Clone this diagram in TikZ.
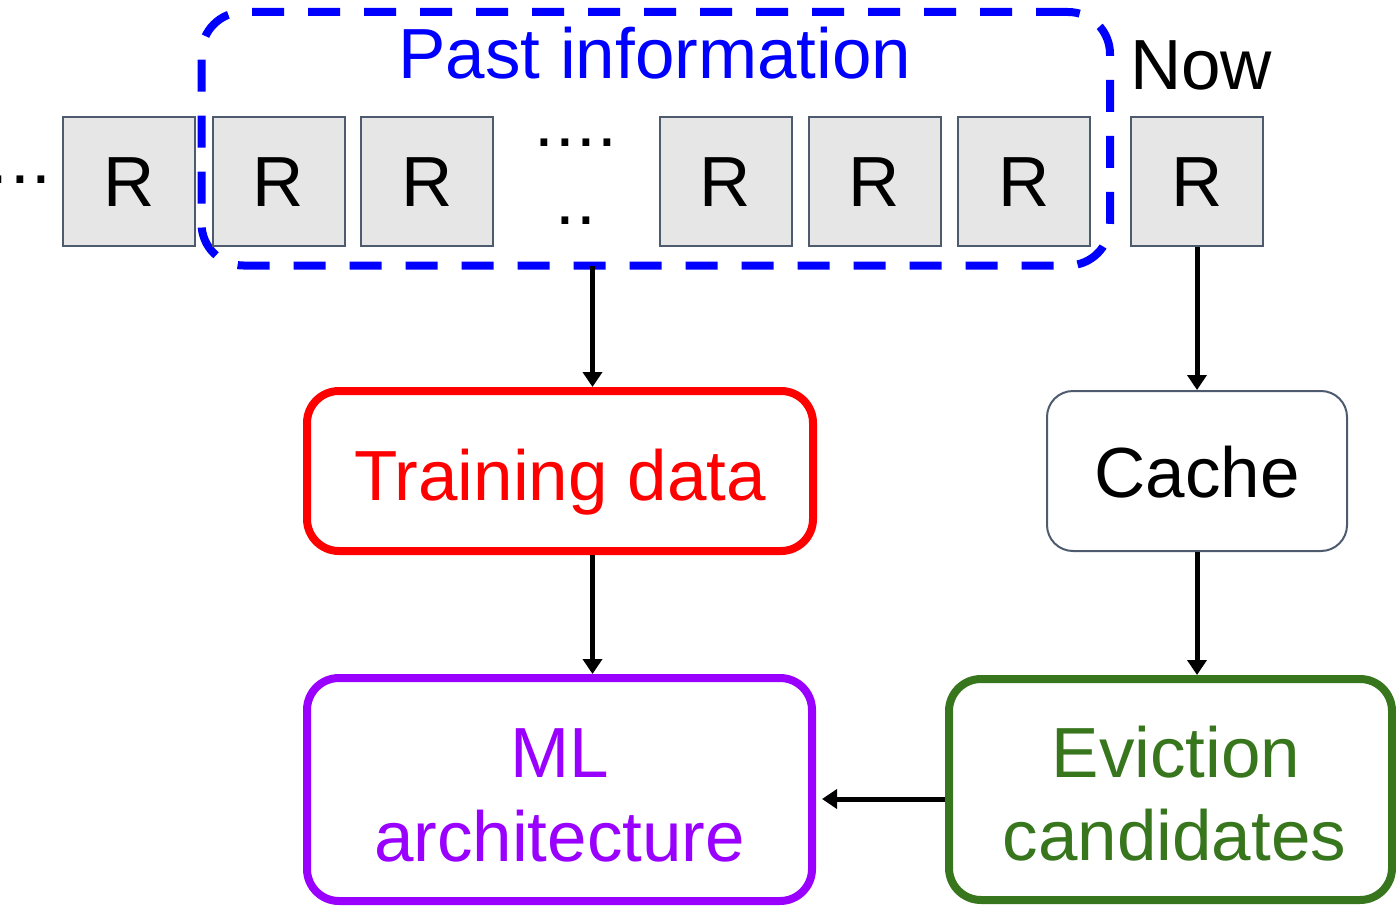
\documentclass[tikz,border=0pt]{standalone}
\usepackage{fontspec}
\setmainfont{Liberation Sans}
\usetikzlibrary{arrows.meta}
\definecolor{rfill}{HTML}{E6E6E6}
\definecolor{rline}{HTML}{4E5B6F}
\definecolor{pastblue}{HTML}{0000FF}
\definecolor{trainred}{HTML}{FF0000}
\definecolor{mlpurple}{HTML}{9900FF}
\definecolor{evgreen}{HTML}{38761D}
\begin{document}
\begin{tikzpicture}[x=1pt,y=-1pt,
 bigfont/.style={font=\fontsize{71}{84}\selectfont},
 rbox/.style={draw=rline, fill=rfill, line width=2pt, minimum width=132pt, minimum height=129pt, inner sep=0pt, text height=51pt, text depth=0pt, bigfont},
 roundbox/.style={rounded corners=32pt, line width=8pt, inner sep=0pt, fill=white},
 arr/.style={line width=5pt, -{Triangle[length=15pt,width=19pt]}},
 lbl/.style={anchor=base, inner sep=0pt, bigfont},
 dotlbl/.style={anchor=base west, inner sep=0pt, bigfont},
]
\useasboundingbox (0,0) rectangle (1396,909);

% past information frame
\node[draw=pastblue, line width=8pt, dash pattern=on 32pt off 24pt, rounded corners=42pt,
      minimum width=908.5pt, minimum height=253.5pt, outer sep=0pt, inner sep=0pt] (past) at (655.75,138.75) {};
\node[lbl, text=pastblue] (pasttxt) at (655,79) {Past information};
\node[lbl] (now) at (1201,90) {Now};

% request boxes
\node[rbox] (r1) at (129,181.5) {R};
\node[rbox] (r2) at (278.5,181.5) {R};
\node[rbox] (r3) at (427,181.5) {R};
\node[rbox] (r4) at (725.5,181.5) {R};
\node[rbox] (r5) at (874.5,181.5) {R};
\node[rbox] (r6) at (1024,181.5) {R};
\node[rbox] (r7) at (1197,181.5) {R};

% dots
\node[dotlbl] (ldots) at (-11.5,184) {.\kern1.9pt.\kern1.9pt.};
\node[dotlbl] (mdots) at (534.5,147) {.\kern1.3pt.\kern1.3pt.\kern1.3pt.};
\node[dotlbl] (mdots2) at (555.5,225) {.\kern1.3pt.};

% boxes
\node[roundbox, draw=trainred, text=trainred, minimum width=506pt, minimum height=160pt,
      bigfont, text height=58pt, text depth=0pt] (train) at (560,471) {Training data};
\node[draw=rline, line width=2pt, rounded corners=26pt, minimum width=300pt, minimum height=160pt,
      inner sep=0pt, bigfont, text height=52pt, text depth=0pt] (cache) at (1197,471) {Cache};
\node[roundbox, draw=mlpurple, minimum width=505pt, minimum height=223pt] (ml) at (559.5,789.5) {};
\node[lbl, text=mlpurple] (mltxt1) at (560,777) {ML};
\node[lbl, text=mlpurple] (mltxt2) at (559.5,861) {architecture};
\node[roundbox, draw=evgreen, minimum width=443pt, minimum height=221pt] (evict) at (1170.5,789.5) {};
\node[lbl, text=evgreen] (ev1) at (1176,777) {Eviction};
\node[lbl, text=evgreen] (ev2) at (1174.5,860) {candidates};

% connectors
\coordinate (xa) at (592.5,0);
\coordinate (ya) at (0,799);
\draw[arr] (past.south -| xa) -- (train.north -| xa);
\draw[arr] (train.south -| xa) -- (ml.north -| xa);
\draw[arr] (r7.south) -- (cache.north);
\draw[arr] (cache.south) -- (evict.north -| cache.south);
\draw[arr] (evict.west |- ya) -- ([xshift=6pt]ml.east |- ya);
\end{tikzpicture}
\end{document}
